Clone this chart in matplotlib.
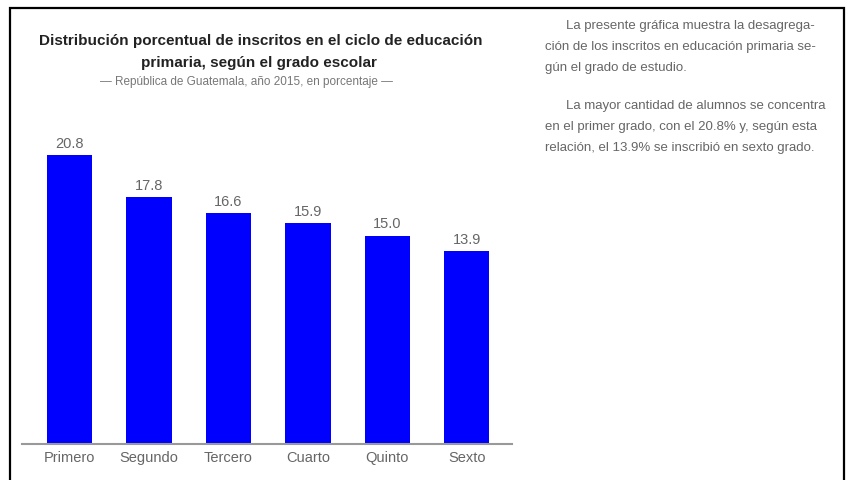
# Distribución porcentual de inscritos en primaria, Guatemala 2015

import matplotlib.pyplot as plt
from matplotlib.patches import Rectangle

# --- datos ---
grados = ['Primero', 'Segundo', 'Tercero', 'Cuarto', 'Quinto', 'Sexto']
porcentajes = [20.8, 17.8, 16.6, 15.9, 15.0, 13.9]

texto_lineas = [
    'La presente gráfica muestra la desagrega-',
    'ción de los inscritos en educación primaria se-',
    'gún el grado de estudio.',
    'La mayor cantidad de alumnos se concentra',
    'en el primer grado, con el 20.8% y, según esta',
    'relación, el 13.9% se inscribió en sexto grado.',
]

plt.rcParams['font.family'] = ['Liberation Sans', 'DejaVu Sans']

W, H = 846, 480
fig = plt.figure(figsize=(W / 100, H / 100), dpi=100)

# marco negro
fig.add_artist(Rectangle((10 / W, -0.05), (844 - 10) / W, 1.05 - 8 / H,
                         transform=fig.transFigure, fill=False,
                         edgecolor='black', linewidth=1.6))

ax = fig.add_axes([22 / W, 1 - 444 / H, (512 - 22) / W, (444 - 130) / H])
x = range(len(grados))
bars = ax.bar(x, porcentajes, width=0.57, color='#0000ff')
for b, v in zip(bars, porcentajes):
    ax.text(b.get_x() + b.get_width() / 2, v + 0.3, f'{v:.1f}',
            ha='center', va='bottom', fontsize=10.5, color='#666666')

ax.set_xlim(-0.6, 5.57)
ax.set_ylim(0, 22.6)
ax.set_xticks(list(x))
ax.set_xticklabels(grados, fontsize=10.5, color='#666666')
ax.tick_params(axis='x', length=0, pad=5)
ax.set_yticks([])
for s in ['top', 'right', 'left']:
    ax.spines[s].set_visible(False)
ax.spines['bottom'].set_color('#999999')
ax.spines['bottom'].set_linewidth(1.5)

# titulo
fig.text(261 / W, 1 - 41 / H, 'Distribución porcentual de inscritos en el ciclo de educación',
         ha='center', va='center', fontsize=11, fontweight='bold', color='#222222')
fig.text(259 / W, 1 - 63 / H, 'primaria, según el grado escolar',
         ha='center', va='center', fontsize=11, fontweight='bold', color='#222222')
fig.text(246 / W, 1 - 82 / H, '— República de Guatemala, año 2015, en porcentaje —',
         ha='center', va='center', fontsize=8.5, color='#777777')

# texto lateral
ys = [26, 47, 68, 106, 127, 148]
xs = [566, 545, 545, 566, 545, 545]
for t, xx, yy in zip(texto_lineas, xs, ys):
    fig.text(xx / W, 1 - yy / H, t, ha='left', va='center',
             fontsize=9.5, color='#666666')

fig.savefig('out.png', dpi=100)
